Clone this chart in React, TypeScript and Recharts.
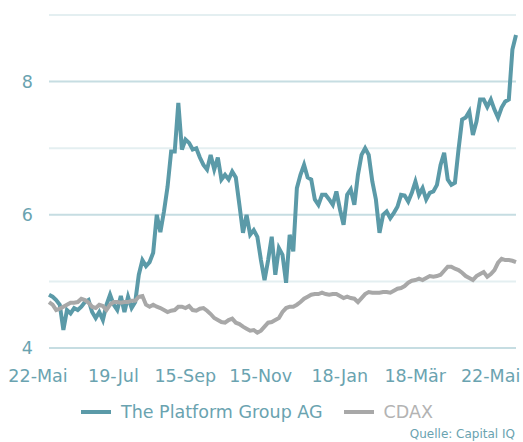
import React from 'react';
import { LineChart, Line, XAxis, YAxis, ReferenceLine, Legend } from 'recharts';

// The Platform Group AG vs. CDAX (rebased), every second trading day
const platform = [
  4.8, 4.77, 4.72, 4.65, 4.27, 4.57, 4.52, 4.6, 4.57, 4.62,
  4.69, 4.72, 4.54, 4.45, 4.54, 4.42, 4.65, 4.8, 4.65, 4.57,
  4.78, 4.54, 4.77, 4.6, 4.69, 5.1, 5.32, 5.23, 5.29, 5.43,
  6.0, 5.74, 6.05, 6.42, 6.95, 6.95, 7.68, 6.98, 7.13, 7.08,
  6.98, 7.0, 6.86, 6.75, 6.68, 6.9, 6.68, 6.86, 6.53, 6.6,
  6.53, 6.65, 6.56, 6.15, 5.73, 6.0, 5.7, 5.77, 5.67, 5.32,
  5.02, 5.32, 5.67, 5.1, 5.5, 5.4, 4.98, 5.7, 5.45, 6.4,
  6.6, 6.75, 6.56, 6.53, 6.23, 6.15, 6.3, 6.3, 6.23, 6.15,
  6.35, 6.08, 5.85, 6.3, 6.38, 6.15, 6.6, 6.9, 7.0, 6.9,
  6.5, 6.23, 5.73, 6.0, 6.05, 5.95, 6.03, 6.12, 6.3, 6.29,
  6.2, 6.33, 6.5, 6.3, 6.4, 6.23, 6.33, 6.35, 6.45, 6.75,
  6.93, 6.53, 6.45, 6.48, 6.98, 7.43, 7.46, 7.55, 7.2, 7.4,
  7.73, 7.73, 7.62, 7.73, 7.58, 7.46, 7.61, 7.7, 7.73, 8.48,
  8.7,
];

const cdax = [
  4.69, 4.65, 4.57, 4.59, 4.62, 4.65, 4.68, 4.68, 4.69, 4.74,
  4.72, 4.68, 4.62, 4.6, 4.65, 4.63, 4.57, 4.65, 4.69, 4.69,
  4.68, 4.69, 4.69, 4.71, 4.71, 4.77, 4.78, 4.65, 4.62, 4.65,
  4.62, 4.6, 4.57, 4.54, 4.56, 4.57, 4.62, 4.62, 4.6, 4.63,
  4.57, 4.56, 4.59, 4.6, 4.56, 4.51, 4.45, 4.42, 4.39, 4.38,
  4.42, 4.44, 4.38, 4.36, 4.32, 4.29, 4.26, 4.27, 4.23, 4.26,
  4.32, 4.38, 4.39, 4.42, 4.45, 4.54, 4.6, 4.62, 4.62, 4.65,
  4.69, 4.74, 4.77, 4.8, 4.81, 4.81, 4.83, 4.81, 4.8, 4.81,
  4.81, 4.78, 4.75, 4.77, 4.75, 4.74, 4.69, 4.75, 4.81, 4.84,
  4.83, 4.83, 4.83, 4.84, 4.84, 4.83, 4.86, 4.89, 4.9, 4.93,
  4.98, 5.01, 5.02, 5.04, 5.02, 5.05, 5.08, 5.07, 5.08, 5.1,
  5.16, 5.22, 5.22, 5.19, 5.17, 5.13, 5.08, 5.05, 5.02, 5.08,
  5.11, 5.14, 5.07, 5.11, 5.17, 5.28, 5.34, 5.32, 5.32, 5.31,
  5.29,
];

const seriesNames = ['The Platform Group AG', 'CDAX'];
const tickIdx = [0, 21, 41, 62, 84, 105, 126];
const tickLabels = ['22-Mai', '19-Jul', '15-Sep', '15-Nov', '18-Jan', '18-Mär', '22-Mai'];
const yTicks = [4, 6, 8];
const minorLines = [5, 7, 9];

const TEAL = '#5b9aa8';
const GREY = '#a8a8a8';
const TEXT = '#6aa3b0';
const FONT = '"DejaVu Sans", sans-serif';
const lineColors = [TEAL, GREY];
const legendText = [TEXT, '#b3b3b3'];

const data = platform.map((v, i) => ({ i, tpg: v, cdax: cdax[i] }));

const XTick = (props: any) => {
  const { x, y, payload } = props;
  const k = tickIdx.indexOf(payload.value);
  return (
    <text x={x - 11} y={y} dy={26} textAnchor="middle" fill={TEXT} fontSize={17.5} fontFamily={FONT}>
      {k >= 0 ? tickLabels[k] : ''}
    </text>
  );
};

// legend kept in series order (recharts sorts by name otherwise)
const renderLegend = () => (
  <div style={{ display: 'flex', alignItems: 'center', fontFamily: FONT, fontSize: 17.5, lineHeight: '20px' }}>
    {seriesNames.map((name, n) => (
      <div key={name} style={{ display: 'flex', alignItems: 'center', marginRight: n === 0 ? 21 : 0 }}>
        <span style={{ display: 'inline-block', width: 30, height: 4, background: lineColors[n], marginRight: 10 }} />
        <span style={{ color: legendText[n], whiteSpace: 'nowrap' }}>{name}</span>
      </div>
    ))}
  </div>
);

export default function App() {
  return (
    <div style={{ position: 'absolute', left: 0, top: 0, width: 523, height: 442, background: '#fff', fontFamily: FONT }}>
      <LineChart width={523} height={442} data={data} margin={{ top: 15, right: 7, left: 0, bottom: 64 }}>
        {minorLines.map((v) => (
          <ReferenceLine key={'m' + v} y={v} stroke="#e4eff1" strokeWidth={2} />
        ))}
        {yTicks.map((v) => (
          <ReferenceLine key={'M' + v} y={v} stroke="#c6dde2" strokeWidth={2} />
        ))}
        <XAxis
          dataKey="i"
          type="number"
          domain={[0, platform.length - 1]}
          ticks={tickIdx}
          interval={0}
          axisLine={false}
          tickLine={false}
          height={30}
          tick={<XTick />}
        />
        <YAxis
          type="number"
          domain={[4, 9]}
          ticks={yTicks}
          axisLine={false}
          tickLine={false}
          width={49}
          tickMargin={10}
          tick={{ fill: TEXT, fontSize: 17.5, fontFamily: FONT }}
        />
        <Line
          dataKey="tpg"
          name={seriesNames[0]}
          stroke={TEAL}
          strokeWidth={4}
          dot={false}
          isAnimationActive={false}
        />
        <Line
          dataKey="cdax"
          name={seriesNames[1]}
          stroke={GREY}
          strokeWidth={4}
          dot={false}
          isAnimationActive={false}
        />
        <Legend
          layout="vertical"
          align="center"
          verticalAlign="middle"
          content={renderLegend}
          wrapperStyle={{ position: 'absolute', left: 81, top: 402, width: 'auto' }}
        />
      </LineChart>
      <div
        style={{
          position: 'absolute',
          right: 8,
          top: 428,
          fontSize: 12,
          lineHeight: '12px',
          color: TEXT,
          whiteSpace: 'nowrap',
        }}
      >
        Quelle: Capital IQ
      </div>
    </div>
  );
}
